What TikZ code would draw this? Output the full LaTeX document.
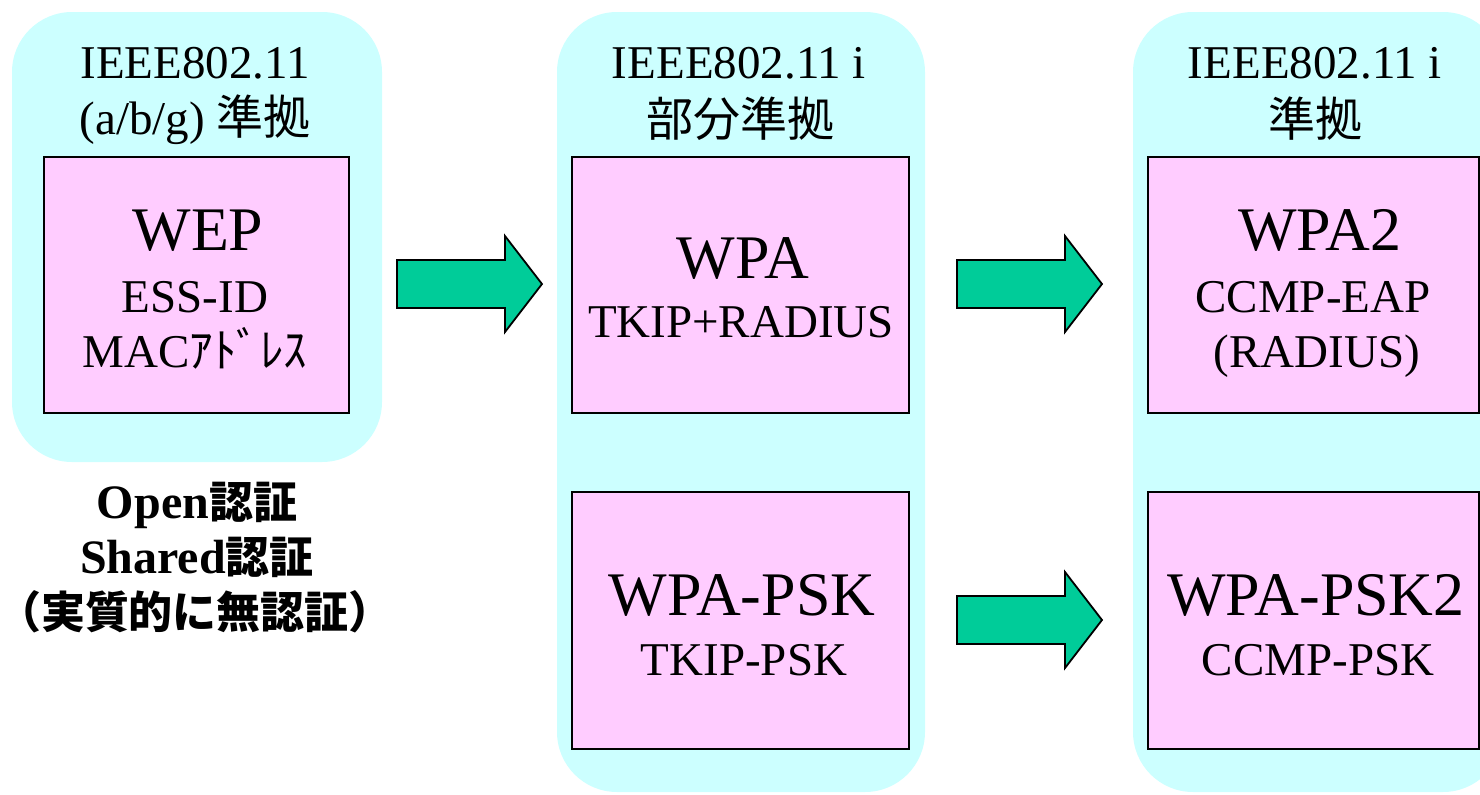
\documentclass[tikz,border=0pt]{standalone}
\usepackage{fontspec}
\setmainfont{Liberation Serif}
\newfontfamily\jp{Noto Sans CJK JP}
\usetikzlibrary{positioning}

\definecolor{groupcyan}{RGB}{204,255,255}
\definecolor{boxpink}{RGB}{255,204,255}
\definecolor{arrowgreen}{RGB}{0,204,153}

% block arrow, starting at the middle of its tail
\newcommand{\blockarrow}[1]{%
  \draw[fill=arrowgreen, line width=0.9pt, line join=miter]
    (#1) ++(0,-24) -- ++(108,0) -- ++(0,-24) -- ++(37,48)
    -- ++(-37,48) -- ++(0,-24) -- ++(-108,0) -- cycle;}
% bold japanese inside the notes
\newcommand{\jpb}[1]{{\jp\bfseries\fontsize{22}{26}\selectfont #1}}

\begin{document}
\begin{tikzpicture}[x=0.5pt, y=-0.5pt,
    group/.style={fill=groupcyan, rounded corners=30pt, inner sep=0pt},
    box/.style={draw, fill=boxpink, line width=0.75pt, inner sep=0pt},
    head/.style={anchor=base, inner sep=0pt, font=\fontsize{23.5}{28}\selectfont},
    big/.style={anchor=base, inner sep=0pt, font=\fontsize{31}{36}\selectfont},
    sub/.style={anchor=base, inner sep=0pt, font=\fontsize{23.5}{28}\selectfont},
    note/.style={anchor=base, inner sep=0pt, font=\fontsize{24}{28}\selectfont\bfseries}]
    \useasboundingbox (0,0) rectangle (1480,794);
    \clip (0,0) rectangle (1480,794);

    % Groups
    \node[group, minimum width=185pt, minimum height=225pt] (wepgrp) at (197,237) {};
    \node[group, minimum width=184pt, minimum height=390pt] (wpagrp) at (741,402) {};
    \node[group, minimum width=185pt, minimum height=390pt] (wpa2grp) at (1318,402) {};

    % Boxes
    \node[box, minimum width=152.5pt, minimum height=128pt] (wep) at (196.5,285) {};
    \node[box, minimum width=168.5pt, minimum height=128pt] (wpa) at (740.5,285) {};
    \node[box, minimum width=168.5pt, minimum height=128.5pt] (wpapsk) at (740.5,620.5) {};
    \node[box, minimum width=165.5pt, minimum height=128pt] (wpa2) at (1313.5,285) {};
    \node[box, minimum width=165.5pt, minimum height=128.5pt] (wpapsk2) at (1313.5,620.5) {};

    % Headings
    \node[head] (wephd) at (195,78) {IEEE802.11};
    \node[head] (wephdb) at (195,134) {(a/b/g) {\jp 準拠}};
    \node[head] (wpahd) at (739,78) {IEEE802.11 i};
    \node[head] (wpahdb) at (740,136) {\jp 部分準拠};
    \node[head] (wpa2hd) at (1315,78) {IEEE802.11 i};
    \node[head] (wpa2hdb) at (1315,136) {\jp 準拠};

    % Box texts
    \node[big] (wepname) at (198,250) {WEP};
    \node[sub] (wepa) at (195,312) {ESS-ID};
    \node[sub] (wepb) at (195,367) {MAC{\jp ｱﾄﾞﾚｽ}};
    \node[big] (wpaname) at (743,278) {WPA};
    \node[sub] (wpaa) at (741,337) {TKIP+RADIUS};
    \node[big] (wpapskname) at (742,615) {WPA-PSK};
    \node[sub] (wpapska) at (744,675) {TKIP-PSK};
    \node[big] (wpa2name) at (1320,250) {WPA2};
    \node[sub] (wpa2a) at (1313,312) {CCMP-EAP};
    \node[sub] (wpa2b) at (1317,367) {(RADIUS)};
    \node[big] (wpapsk2name) at (1316,615) {WPA-PSK2};
    \node[sub] (wpapsk2a) at (1318,675) {CCMP-PSK};

    % Authentication note
    \node[note] (opennote) at (197,518) {Open\jpb{認証}};
    \node[note] (sharednote) at (197,573) {Shared\jpb{認証}};
    \node[note] (nonenote) at (195,628) {\jpb{（実質的に無認証）}};

    % Arrows
    \coordinate (arr1) at (397,284);
    \coordinate (arr2) at (957,284);
    \coordinate (arr3) at (957,620);
    \blockarrow{arr1}
    \blockarrow{arr2}
    \blockarrow{arr3}
\end{tikzpicture}
\end{document}
